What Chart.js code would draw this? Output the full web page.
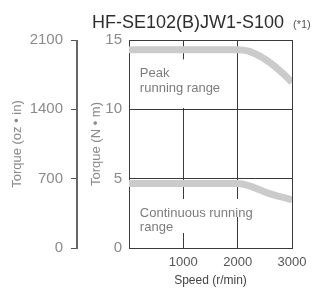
<!DOCTYPE html>
<html>
<head>
<meta charset="utf-8">
<script src="https://cdn.jsdelivr.net/npm/chart.js@4"></script>
<style>
  html, body { margin: 0; padding: 0; background: #fff; }
  #wrap { width: 318px; height: 288px; }
</style>
</head>
<body>
<div id="wrap"><canvas id="chart"></canvas></div>
<script>
const speeds = [0, 2000, 2200, 2400, 2600, 2800, 3000];
const peakTorque = [14.3, 14.3, 14.2, 13.85, 13.35, 12.7, 11.95];
const contTorque = [4.65, 4.65, 4.5, 4.2, 3.9, 3.68, 3.48];
const xTicks = [1000, 2000, 3000];
const titleText = 'HF-SE102(B)JW1-S100';
const noteText = '(*1)';
const peakLabel = ['Peak', 'running range'];
const contLabel = ['Continuous running', 'range'];

const FONT = '"Liberation Sans", Arial, sans-serif';
const GRID = '#3a3a3a';
const BAND = '#cbcbcb';

function toPoints(ys) {
  return speeds.map((s, i) => ({ x: s, y: ys[i] }));
}

// title, note, oz-in axis line and the white-backed range labels
const overlay = {
  id: 'overlay',
  afterDraw(chart) {
    const { ctx } = chart;
    const x = chart.scales.x;
    const y = chart.scales.y;
    const y2 = chart.scales.y2;
    ctx.save();

    // oz-in axis line
    ctx.fillStyle = '#666';
    ctx.fillRect(Math.round(y2.right) - 2, Math.round(y2.top), 2, Math.round(y2.bottom - y2.top) + 1);

    ctx.fillStyle = '#2e2e2e';
    ctx.font = '18px ' + FONT;
    ctx.textAlign = 'center';
    ctx.textBaseline = 'alphabetic';
    ctx.fillText(titleText, 188, 28);
    ctx.fillStyle = '#555';
    ctx.font = '11px ' + FONT;
    ctx.textAlign = 'left';
    ctx.fillText(noteText, 293, 28);

    const left = x.getPixelForValue(200);
    ctx.font = '13px ' + FONT;

    // peak block
    ctx.fillStyle = '#fff';
    ctx.fillRect(left - 4, y.getPixelForValue(13.6), 90, y.getPixelForValue(10.1) - y.getPixelForValue(13.6));
    ctx.fillStyle = '#7c7c7c';
    ctx.fillText(peakLabel[0], left, 77);
    ctx.fillText(peakLabel[1], left, 92);

    // continuous block
    ctx.fillStyle = '#fff';
    ctx.fillRect(left - 3, 199, 113, 18);
    ctx.fillRect(left - 3, 217, 48, 16);
    ctx.fillStyle = '#7c7c7c';
    ctx.fillText(contLabel[0], left, 217);
    ctx.fillText(contLabel[1], left, 231);

    ctx.restore();
  }
};

new Chart(document.getElementById('chart'), {
  type: 'line',
  data: {
    datasets: [
      {
        label: 'Peak',
        data: toPoints(peakTorque),
        borderColor: BAND,
        borderWidth: 7,
        pointRadius: 0,
        cubicInterpolationMode: 'monotone',
        yAxisID: 'y',
      },
      {
        label: 'Continuous',
        data: toPoints(contTorque),
        borderColor: BAND,
        borderWidth: 7,
        pointRadius: 0,
        cubicInterpolationMode: 'monotone',
        yAxisID: 'y',
      },
    ],
  },
  options: {
    responsive: true,
    maintainAspectRatio: false,
    animation: false,
    events: [],
    layout: { padding: { left: 4, right: 26, top: 40, bottom: 0 } },
    plugins: { legend: { display: false }, tooltip: { enabled: false }, title: { display: false } },
    scales: {
      x: {
        type: 'linear',
        min: 0,
        max: 3000,
        z: 1,
        afterBuildTicks: (s) => { s.ticks = [0, ...xTicks].map((v) => ({ value: v })); },
        afterFit: (s) => { s.height = 40; },
        grid: { color: GRID, lineWidth: 1, drawTicks: false },
        border: { color: GRID, width: 1 },
        ticks: {
          padding: 7,
          color: '#555',
          font: { family: FONT, size: 13 },
          maxRotation: 0,
          callback: (v) => (v === 0 ? '' : String(v)),
        },
        title: {
          display: true,
          text: 'Speed (r/min)',
          color: '#444',
          font: { family: FONT, size: 12 },
          padding: { top: 0, bottom: 0 },
        },
      },
      y: {
        type: 'linear',
        position: 'left',
        min: 0,
        max: 15,
        weight: 0,
        z: 1,
        afterFit: (s) => { s.width = 51; },
        ticks: { stepSize: 5, padding: 7, color: '#8a8a8a', font: { family: FONT, size: 15 } },
        grid: { color: GRID, lineWidth: 1, drawTicks: false },
        border: { color: GRID, width: 1 },
        title: {
          display: true,
          text: 'Torque (N • m)',
          color: '#8a8a8a',
          font: { family: FONT, size: 13 },
          padding: { top: 11, bottom: 0 },
        },
      },
      y2: {
        type: 'linear',
        position: 'left',
        min: 0,
        max: 2100,
        weight: 1,
        afterFit: (s) => { s.width = 74; },
        ticks: {
          stepSize: 700,
          padding: 8,
          color: '#8a8a8a',
          font: { family: FONT, size: 15 },
          callback: (v) => String(v),
        },
        grid: { drawOnChartArea: false, drawTicks: true, tickLength: 7, tickColor: '#555', tickWidth: 1, lineWidth: 1 },
        border: { display: false },
        title: {
          display: true,
          text: 'Torque (oz • in)',
          color: '#8a8a8a',
          font: { family: FONT, size: 13 },
          padding: { top: 6, bottom: 0 },
        },
      },
    },
  },
  plugins: [overlay],
});
</script>
</body>
</html>
